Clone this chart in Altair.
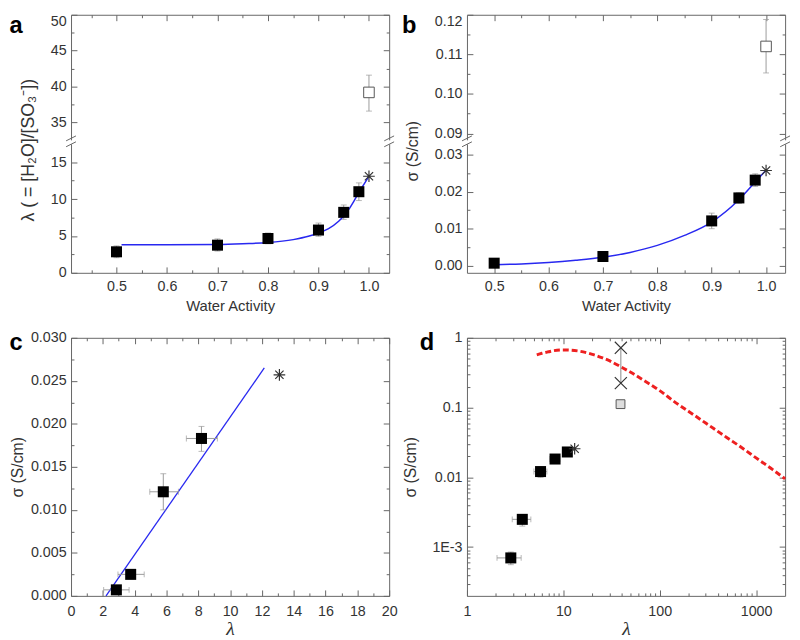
import altair as alt
import pandas as pd

# ---------------- values ----------------
water_activity = [0.5, 0.7, 0.8, 0.9, 0.95, 0.98]
lam = [2.85, 3.75, 4.65, 5.8, 8.2, 11.0]
lam_lo = [2.05, 2.95, 3.95, 4.95, 7.25, 9.8]
lam_hi = [3.65, 4.6, 5.4, 6.75, 9.2, 12.2]

cond_aw = [0.5, 0.7, 0.9, 0.95, 0.98]
cond_lam = [2.85, 3.75, 5.8, 8.2, 11.0]
cond_lam_lo = [2.05, 2.95, 4.95, 7.25, 9.8]
cond_lam_hi = [3.65, 4.6, 6.75, 9.2, 12.2]
sigma = [0.0007, 0.0025, 0.0121, 0.0183, 0.0231]
sigma_lo = [0.00056, 0.0020, 0.0100, 0.0168, 0.0214]
sigma_hi = [0.00085, 0.0029, 0.0142, 0.0197, 0.0248]

vapor_aw = [1.0]
vapor_lam = [13.1]
vapor_sigma = [0.0257]

liquid_aw = [1.0]
liquid_lam = [39.2]
liquid_lam_lo = [36.6]
liquid_lam_hi = [41.6]
liquid_sigma = [0.112]
liquid_sigma_lo = [0.1053]
liquid_sigma_hi = [0.1188]

cross_lam = [39.5, 39.5]
cross_sigma = [0.72, 0.224]

fit_a_aw = [0.51, 0.6, 0.7, 0.75, 0.8, 0.85, 0.88, 0.9, 0.92, 0.94, 0.95, 0.96, 0.97, 0.98, 0.99, 1.0]
fit_a_lam = [3.8, 3.8, 3.85, 3.95, 4.1, 4.5, 4.95, 5.4, 6.0, 7.0, 7.7, 8.6, 9.7, 10.9, 12.0, 13.1]

fit_b_aw = [0.5, 0.55, 0.6, 0.65, 0.7, 0.75, 0.8, 0.85, 0.9, 0.95, 0.98, 1.0]
fit_b_sigma = [0.0003, 0.0005, 0.0009, 0.0015, 0.0023, 0.0036, 0.0055, 0.0082, 0.0118, 0.0178, 0.0226, 0.0258]

fit_c_lam = [2.2, 12.15]
fit_c_sigma = [0.0, 0.0265]

theory_lam = [5.3, 6, 7, 8, 10, 12, 15, 20, 25, 30, 40, 50, 70, 100, 150, 200, 300, 500, 700, 1000, 1500, 2000]
theory_sigma = [0.57, 0.60, 0.63, 0.655, 0.67, 0.665, 0.64, 0.58, 0.52, 0.47, 0.38, 0.32, 0.24, 0.175,
                0.115, 0.088, 0.06, 0.037, 0.027, 0.019, 0.0128, 0.0095]

# ---------------- tables ----------------
df_a = pd.DataFrame({"aw": water_activity, "lam": lam, "lo": lam_lo, "hi": lam_hi})
df_b = pd.DataFrame({"aw": cond_aw, "lam": cond_lam, "llo": cond_lam_lo, "lhi": cond_lam_hi,
                     "sig": sigma, "lo": sigma_lo, "hi": sigma_hi})
df_c = df_b.iloc[:4]
df_vap = pd.DataFrame({"aw": vapor_aw, "lam": vapor_lam, "sig": vapor_sigma})
df_liq = pd.DataFrame({"aw": liquid_aw, "lam": liquid_lam, "llo": liquid_lam_lo, "lhi": liquid_lam_hi,
                       "sig": liquid_sigma, "lo": liquid_sigma_lo, "hi": liquid_sigma_hi})
df_cross = pd.DataFrame({"lam": cross_lam, "sig": cross_sigma})
df_cross_line = pd.DataFrame({"lam": [cross_lam[0]], "lo": [min(cross_sigma)], "hi": [max(cross_sigma)]})
df_fa = pd.DataFrame({"aw": fit_a_aw, "lam": fit_a_lam})
df_fb = pd.DataFrame({"aw": fit_b_aw, "sig": fit_b_sigma})
df_fc = pd.DataFrame({"lam": fit_c_lam, "sig": fit_c_sigma})
df_th = pd.DataFrame({"lam": theory_lam, "sig": theory_sigma})
one = alt.Data(values=[{"k": 0}])

# ---------------- style ----------------
FONT = "Liberation Sans"
AXC = "#666666"
TXT = "#333333"
ERR = "#9a9a9a"
BLUE = "#2828f0"
RED = "#ee2020"
MJ, MN = 6, 3
W = 323
H_TOP, H_BOT, H_FULL = 127, 131, 262
STAR = "M-1,0L1,0M0,-1L0,1M-0.71,-0.71L0.71,0.71M-0.71,0.71L0.71,-0.71"
XSHAPE = "M-1,-1L1,1M-1,1L1,-1"
LEFT_L, LEFT_R, RIGHT_EXT = -63, -66, W + 9
SQ = 125


def X(f, s):
    return alt.X(f, type="quantitative", scale=s, axis=None)


def Y(f, s):
    return alt.Y(f, type="quantitative", scale=s, axis=None)


def axis_layers(df, xf, yf, xs, ys, xmaj, xmin, ymaj, ymin, xlab, ylab, bottom=True, top=True):
    def enc(xa, ya):
        return alt.Chart(df).mark_point(opacity=0).encode(
            x=alt.X(xf, type="quantitative", scale=xs, axis=xa),
            y=alt.Y(yf, type="quantitative", scale=ys, axis=ya))

    def tk(orient, vals, size):
        return alt.Axis(orient=orient, values=vals, offset=-size, tickSize=size, ticks=True,
                        labels=False, domain=False, title=None, grid=False,
                        tickColor=AXC, tickWidth=1)

    def dom(orient):
        return alt.Axis(orient=orient, ticks=False, labels=False, domain=True,
                        domainColor=AXC, domainWidth=1, title=None, grid=False)

    xl = alt.Axis(orient="bottom", values=xmaj, ticks=False, tickSize=0, domain=True,
                  domainColor=AXC, domainWidth=1, grid=False, labelFlush=False, **xlab) if bottom else None
    yl = alt.Axis(orient="left", values=ymaj, ticks=False, tickSize=0, domain=True,
                  domainColor=AXC, domainWidth=1, grid=False, **ylab)
    return [
        enc(xl, yl),
        enc(tk("bottom", xmaj, MJ) if bottom else None, tk("left", ymaj, MJ)),
        enc(tk("bottom", xmin, MN) if bottom else None, tk("left", ymin, MN)),
        enc(dom("top") if top else None, dom("right")),
        enc(tk("top", xmaj, MJ) if top else None, tk("right", ymaj, MJ)),
        enc(tk("top", xmin, MN) if top else None, tk("right", ymin, MN)),
    ]


def vbars(df, xf, lo, hi, xs, ys):
    return [
        alt.Chart(df).mark_rule(color=ERR, strokeWidth=1).encode(x=X(xf, xs), y=Y(lo, ys), y2=alt.Y2(hi)),
        alt.Chart(df).mark_tick(orient="horizontal", size=6, thickness=1, color=ERR).encode(x=X(xf, xs), y=Y(lo, ys)),
        alt.Chart(df).mark_tick(orient="horizontal", size=6, thickness=1, color=ERR).encode(x=X(xf, xs), y=Y(hi, ys)),
    ]


def hbars(df, yf, lo, hi, xs, ys):
    return [
        alt.Chart(df).mark_rule(color=ERR, strokeWidth=1).encode(y=Y(yf, ys), x=X(lo, xs), x2=alt.X2(hi)),
        alt.Chart(df).mark_tick(orient="vertical", size=6, thickness=1, color=ERR).encode(y=Y(yf, ys), x=X(lo, xs)),
        alt.Chart(df).mark_tick(orient="vertical", size=6, thickness=1, color=ERR).encode(y=Y(yf, ys), x=X(hi, xs)),
    ]


def squares(df, xf, yf, xs, ys):
    return alt.Chart(df).mark_square(size=SQ, color="black", opacity=1).encode(x=X(xf, xs), y=Y(yf, ys))


def star(df, xf, yf, xs, ys):
    return alt.Chart(df).mark_point(shape=STAR, size=140, filled=False, color="#333333",
                                    strokeWidth=1.2, opacity=1).encode(x=X(xf, xs), y=Y(yf, ys))


def open_sq(df, xf, yf, xs, ys, fill="white", size=115):
    return alt.Chart(df).mark_point(shape="square", filled=True, fill=fill, stroke="#555555",
                                    strokeWidth=1, size=size, opacity=1).encode(x=X(xf, xs), y=Y(yf, ys))


def letter(t, dx, dy):
    return alt.Chart(one).mark_text(text=t, font=FONT, fontSize=24, fontWeight="bold", color="black",
                                    align="left", baseline="top").encode(x=alt.value(dx), y=alt.value(dy))


def anchor(x1, x2, y):
    # invisible guide that fixes the extent of a panel for the concat layout
    return alt.Chart(one).mark_rule(opacity=0, strokeWidth=1).encode(
        x=alt.value(x1), x2=alt.value(x2), y=alt.value(y))


def break_marks():
    out = []
    for xp in [0, W]:
        for yc in [-5.5, 0.5]:
            out.append(alt.Chart(one).mark_rule(color=AXC, strokeWidth=1).encode(
                x=alt.value(xp - 5), x2=alt.value(xp + 5), y=alt.value(yc + 2.5), y2=alt.value(yc - 2.5)))
    return out


def steps(a, b, s):
    n = int(round((b - a) / s))
    return [round(a + i * s, 6) for i in range(n + 1)]


def lay(layers, h):
    return alt.layer(*layers).resolve_axis(x="independent", y="independent").properties(width=W, height=h)


LAB = dict(labelPadding=7, titlePadding=6)
LAMBDA_T = dict(title="λ", titleFont="Liberation Serif", titleFontStyle="italic", titleFontSize=20,
                labelPadding=9, titlePadding=1)

# ---------------- panel a ----------------
xs_a = alt.Scale(domain=[0.41, 1.04], nice=False, zero=False)
ys_a_top = alt.Scale(domain=[32.6, 50], nice=False, zero=False)
ys_a_bot = alt.Scale(domain=[0, 17.5], nice=False, zero=False)
xmaj_a = steps(0.5, 1.0, 0.1)
xmin_a = [0.45, 0.55, 0.65, 0.75, 0.85, 0.95]

a_top = lay(
    axis_layers(df_liq, "aw", "lam", xs_a, ys_a_top, xmaj_a, xmin_a, [35, 40, 45, 50], [37.5, 42.5, 47.5],
                {}, dict(format="d", title=None, labelFlush=True, labelPadding=5), bottom=False)
    + vbars(df_liq, "aw", "llo", "lhi", xs_a, ys_a_top)
    + [open_sq(df_liq, "aw", "lam", xs_a, ys_a_top), letter("a", -62.5, 0), anchor(LEFT_L, RIGHT_EXT, 0)],
    H_TOP)

a_bot = lay(
    axis_layers(df_a, "aw", "lam", xs_a, ys_a_bot, xmaj_a, xmin_a, [0, 5, 10, 15], [2.5, 7.5, 12.5],
                dict(format=".1f", title="Water Activity", **LAB),
                dict(format="d", labelFlush=False, labelPadding=5, title="λ ( = [H₂O]/[SO₃⁻])",
                     titleFontSize=18, titleX=-43, titleY=6, titleBaseline="middle", titleAngle=270),
                top=False)
    + vbars(df_a, "aw", "lo", "hi", xs_a, ys_a_bot)
    + [alt.Chart(df_fa).mark_line(color=BLUE, strokeWidth=1.5, interpolate="monotone").encode(
        x=X("aw", xs_a), y=Y("lam", ys_a_bot)),
       squares(df_a, "aw", "lam", xs_a, ys_a_bot),
       star(df_vap, "aw", "lam", xs_a, ys_a_bot),
       anchor(LEFT_L, RIGHT_EXT, H_BOT + 48)]
    + break_marks(),
    H_BOT)

# ---------------- panel b ----------------
xs_b = alt.Scale(domain=[0.45, 1.035], nice=False, zero=False)
ys_b_top = alt.Scale(domain=[0.0884, 0.12], nice=False, zero=False)
ys_b_bot = alt.Scale(domain=[-0.0019, 0.0329], nice=False, zero=False)
xmaj_b = steps(0.5, 1.0, 0.1)
xmin_b = [0.55, 0.65, 0.75, 0.85, 0.95]

b_top = lay(
    axis_layers(df_liq, "aw", "sig", xs_b, ys_b_top, xmaj_b, xmin_b, [0.09, 0.10, 0.11, 0.12],
                [0.095, 0.105, 0.115], {},
                dict(format=".2f", title=None, labelFlush=True, labelPadding=5), bottom=False)
    + vbars(df_liq, "aw", "lo", "hi", xs_b, ys_b_top)
    + [open_sq(df_liq, "aw", "sig", xs_b, ys_b_top), letter("b", -66, 0), anchor(LEFT_R, W + 5, 0)],
    H_TOP)

b_bot = lay(
    axis_layers(df_b, "aw", "sig", xs_b, ys_b_bot, xmaj_b, xmin_b, [0.0, 0.01, 0.02, 0.03],
                [0.005, 0.015, 0.025],
                dict(format=".1f", title="Water Activity", **LAB),
                dict(format=".2f", labelFlush=False, labelPadding=5, title="σ (S/cm)",
                     titleFontSize=16, titleX=-55, titleY=7, titleBaseline="middle", titleAngle=270),
                top=False)
    + vbars(df_b, "aw", "lo", "hi", xs_b, ys_b_bot)
    + [alt.Chart(df_fb).mark_line(color=BLUE, strokeWidth=1.5, interpolate="monotone").encode(
        x=X("aw", xs_b), y=Y("sig", ys_b_bot)),
       squares(df_b, "aw", "sig", xs_b, ys_b_bot),
       star(df_vap, "aw", "sig", xs_b, ys_b_bot),
       anchor(LEFT_R, W + 5, H_BOT + 48)]
    + break_marks(),
    H_BOT)

# ---------------- panel c ----------------
xs_c = alt.Scale(domain=[0, 20], nice=False, zero=False)
ys_c = alt.Scale(domain=[0, 0.03], nice=False, zero=False)
c = lay(
    axis_layers(df_c, "lam", "sig", xs_c, ys_c, steps(0, 20, 2), steps(1, 19, 2),
                steps(0, 0.03, 0.005), steps(0.0025, 0.0275, 0.005),
                dict(format="d", **LAMBDA_T),
                dict(format=".3f", labelFlush=False, labelPadding=5, title="σ (S/cm)",
                     titleFontSize=16, titleX=-54, titleBaseline="middle", titleAngle=270))
    + [alt.Chart(df_fc).mark_line(color=BLUE, strokeWidth=1.3).encode(x=X("lam", xs_c), y=Y("sig", ys_c))]
    + hbars(df_c, "sig", "llo", "lhi", xs_c, ys_c)
    + vbars(df_c, "lam", "lo", "hi", xs_c, ys_c)
    + [squares(df_c, "lam", "sig", xs_c, ys_c),
       star(df_vap, "lam", "sig", xs_c, ys_c),
       letter("c", -62.5, -7),
       anchor(LEFT_L, RIGHT_EXT, -10)],
    H_FULL)

# ---------------- panel d ----------------
xs_d = alt.Scale(type="log", domain=[1, 2000], nice=False)
ys_d = alt.Scale(type="log", domain=[0.0002, 1], nice=False)
xmin_d = [m * 10 ** e for e in range(0, 3) for m in range(2, 10)]
ymin_d = [round(m * 10 ** e, 6) for e in (-4, -3, -2, -1) for m in range(2, 10) if 0.00021 < m * 10 ** e < 1]
d = lay(
    axis_layers(df_b, "lam", "sig", xs_d, ys_d, [1, 10, 100, 1000], xmin_d,
                [0.001, 0.01, 0.1, 1], ymin_d,
                dict(format="d", **LAMBDA_T),
                dict(labelExpr="datum.value < 0.005 ? '1E-3' : datum.value < 0.05 ? '0.01' : datum.value < 0.5 ? '0.1' : '1'",
                     labelFlush=False, labelPadding=5, title="σ (S/cm)",
                     titleFontSize=16, titleX=-57, titleBaseline="middle", titleAngle=270))
    + [alt.Chart(df_th).mark_line(color=RED, strokeWidth=3, strokeDash=[6, 3], interpolate="monotone").encode(
        x=X("lam", xs_d), y=Y("sig", ys_d)),
       alt.Chart(df_cross_line).mark_rule(color="#888888", strokeWidth=1).encode(
           x=X("lam", xs_d), y=Y("lo", ys_d), y2=alt.Y2("hi")),
       alt.Chart(df_cross).mark_point(shape=XSHAPE, size=150, filled=False, color="#333333",
                                      strokeWidth=1.2, opacity=1).encode(x=X("lam", xs_d), y=Y("sig", ys_d)),
       open_sq(df_liq, "lam", "sig", xs_d, ys_d, fill="#dddddd", size=80)]
    + hbars(df_b, "sig", "llo", "lhi", xs_d, ys_d)
    + vbars(df_b, "lam", "lo", "hi", xs_d, ys_d)
    + [squares(df_b, "lam", "sig", xs_d, ys_d),
       star(df_vap, "lam", "sig", xs_d, ys_d),
       letter("d", -48, -7),
       anchor(LEFT_R, W + 5, -10)],
    H_FULL)

# ---------------- layout ----------------
col_a = alt.vconcat(a_top, a_bot, spacing=4, bounds="flush")
col_b = alt.vconcat(b_top, b_bot, spacing=4, bounds="flush")
row1 = alt.hconcat(col_a, col_b, spacing=2)
row2 = alt.hconcat(c, d, spacing=2)

chart = alt.vconcat(row1, row2, spacing=6).properties(
    padding={"left": 0, "top": 0, "right": 0, "bottom": 0}
).configure_view(stroke="transparent").configure_axis(
    labelFont=FONT, titleFont=FONT, labelFontSize=14.5, titleFontSize=15,
    labelColor=TXT, titleColor=TXT, titleFontWeight="normal", grid=False
)

chart.save("out.html", embed_options={"renderer": "svg", "actions": False})
